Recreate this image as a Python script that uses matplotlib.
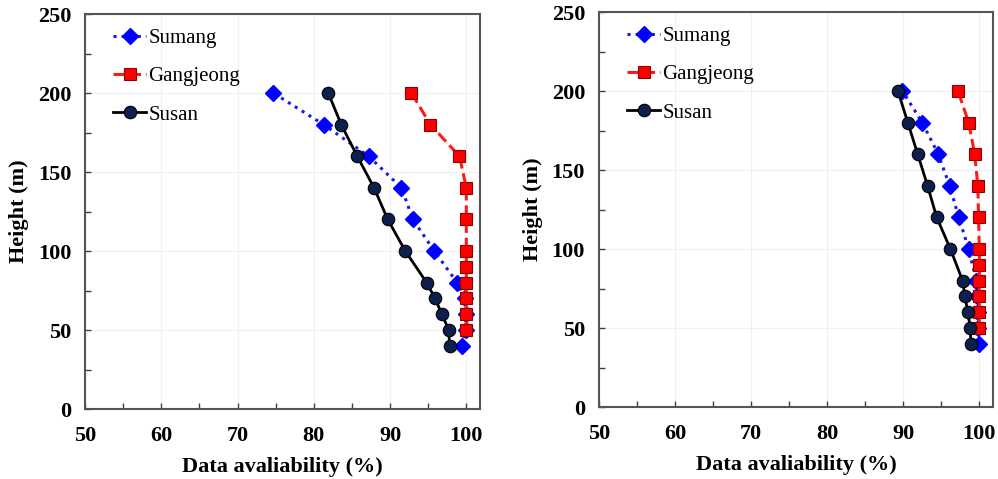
import matplotlib.pyplot as plt
from matplotlib.ticker import MultipleLocator

plt.rcParams['font.family'] = ['Liberation Serif', 'DejaVu Serif']

# heights (m) for each site
h_sumang = [40, 50, 60, 70, 80, 100, 120, 140, 160, 180, 200]
h_gang = [50, 60, 70, 80, 90, 100, 120, 140, 160, 180, 200]
h_susan = [40, 50, 60, 70, 80, 100, 120, 140, 160, 180, 200]

# data availability (%) - left panel
left_sumang = [99.4, 99.9, 99.9, 99.8, 98.8, 95.8, 93.0, 91.5, 87.2, 81.3, 74.7]
left_gang = [100, 100, 100, 100, 100, 100, 100, 100, 99.1, 95.3, 92.8]
left_susan = [97.8, 97.7, 96.8, 95.9, 94.8, 92.0, 89.7, 87.9, 85.7, 83.6, 81.9]

# data availability (%) - right panel
right_sumang = [99.9, 99.8, 99.8, 99.7, 99.6, 98.6, 97.3, 96.1, 94.6, 92.5, 89.9]
right_gang = [100, 100, 100, 100, 100, 100, 99.9, 99.8, 99.4, 98.6, 97.2]
right_susan = [98.9, 98.8, 98.5, 98.1, 97.8, 96.2, 94.4, 93.2, 91.9, 90.6, 89.3]


def draw_panel(ax, sumang, gang, susan):
    ax.plot(sumang, h_sumang, linestyle=':', color='#1a1ae0', linewidth=2.2,
            marker='D', markersize=8.5, markerfacecolor='#0000ff',
            markeredgecolor='#0000ff', label='Sumang')
    ax.plot(gang, h_gang, linestyle='--', color='#ff1a1a', linewidth=2.2,
            marker='s', markersize=8.5, markerfacecolor='#ff0000',
            markeredgecolor='#8b0000', markeredgewidth=0.8, label='Gangjeong')
    ax.plot(susan, h_susan, linestyle='-', color='black', linewidth=2.0,
            marker='o', markersize=9, markerfacecolor='#0d1f4d',
            markeredgecolor='black', markeredgewidth=0.8, label='Susan')

    ax.set_xlim(50, 101.8)
    ax.set_ylim(0, 250)
    ax.xaxis.set_major_locator(MultipleLocator(10))
    ax.xaxis.set_minor_locator(MultipleLocator(5))
    ax.yaxis.set_major_locator(MultipleLocator(50))
    ax.yaxis.set_minor_locator(MultipleLocator(25))
    ax.tick_params(which='both', direction='in', length=4, width=1,
                   color='#404040', top=False, right=False)
    ax.tick_params(which='major', labelsize=16)
    ax.tick_params(axis='x', which='major', pad=12)
    ax.tick_params(axis='y', which='major', pad=10)
    for lab in ax.get_xticklabels() + ax.get_yticklabels():
        lab.set_fontweight('bold')

    ax.grid(True, which='major', color='#f0f0f0', linewidth=0.8)
    ax.set_axisbelow(True)
    for sp in ax.spines.values():
        sp.set_color('#555555')
        sp.set_linewidth(1.5)

    ax.set_xlabel('Data avaliability (%)', fontsize=16, fontweight='bold', labelpad=8)
    ax.set_ylabel('Height (m)', fontsize=16, fontweight='bold', labelpad=6)

    ax.legend(loc='upper left', frameon=False, fontsize=15, handlelength=1.6,
              handletextpad=0.1, labelspacing=0.9, borderaxespad=0.0,
              bbox_to_anchor=(0.05, 0.985))


fig = plt.figure(figsize=(9.98, 4.79), dpi=100)
ax1 = fig.add_axes([0.0852, 0.1461, 0.3958, 0.8246])
ax2 = fig.add_axes([0.6002, 0.1503, 0.3948, 0.8246])

draw_panel(ax1, left_sumang, left_gang, left_susan)
draw_panel(ax2, right_sumang, right_gang, right_susan)

fig.savefig('out.png', dpi=100)
